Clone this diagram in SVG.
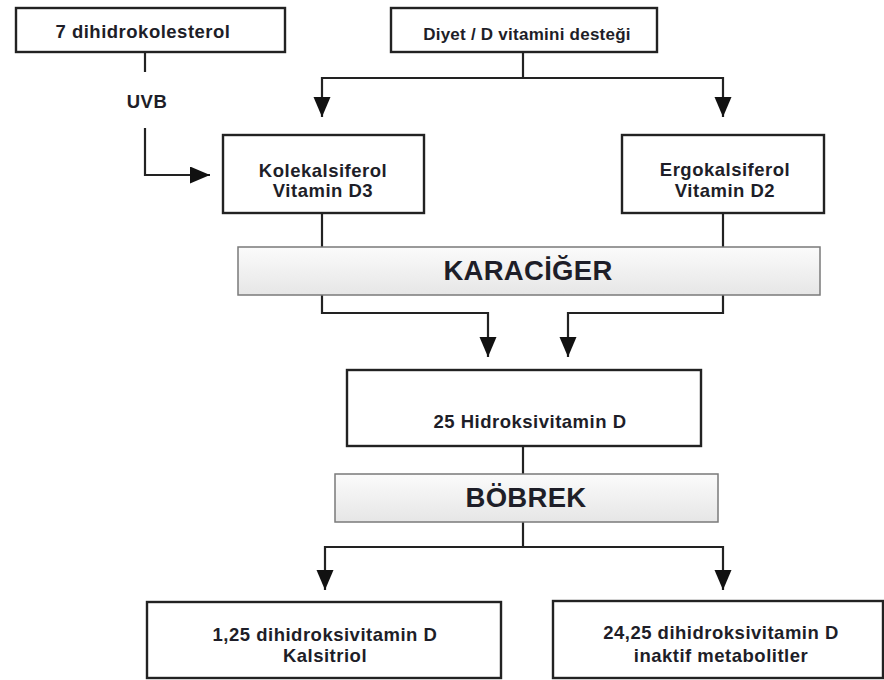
<svg xmlns="http://www.w3.org/2000/svg" width="884" height="680" viewBox="0 0 884 680">
<style>
.box{fill:#fff;stroke:#222;stroke-width:2.4}
.organ{fill:url(#g);stroke:#7a7a7a;stroke-width:1.5}
.t{font-family:"Liberation Sans",Arial,sans-serif;font-weight:bold;font-size:18.5px;letter-spacing:0.5px;fill:#1e1e28;text-anchor:middle}
.big{font-size:27.5px;letter-spacing:0.3px}
.c{fill:none;stroke:#222;stroke-width:2.2}
</style>
<defs>
<linearGradient id="g" x1="0" y1="0" x2="0" y2="1">
<stop offset="0" stop-color="#fbfbfb"/>
<stop offset="1" stop-color="#e6e6e6"/>
</linearGradient>
<marker id="a" markerUnits="userSpaceOnUse" markerWidth="20" markerHeight="18" refX="20" refY="8.5" orient="auto">
<path d="M0,0 L20,8.5 L0,17 z" fill="#111"/>
</marker>
</defs>
<g id="connectors">
<path class="c" d="M145,52 V72"/>
<path class="c" d="M145,128 V175 H210" marker-end="url(#a)"/>
<path class="c" d="M523,52 V78"/>
<path class="c" d="M523,78 H322 V117" marker-end="url(#a)"/>
<path class="c" d="M523,78 H723 V117" marker-end="url(#a)"/>
<path class="c" d="M322,213 V247"/>
<path class="c" d="M723,213 V247"/>
<path class="c" d="M322,295 V313 H488 V357" marker-end="url(#a)"/>
<path class="c" d="M723,295 V313 H568 V357" marker-end="url(#a)"/>
<path class="c" d="M523,446 V474"/>
<path class="c" d="M523,522 V547"/>
<path class="c" d="M523,547 H325 V590" marker-end="url(#a)"/>
<path class="c" d="M523,547 H723 V590" marker-end="url(#a)"/>
</g>
<text class="t" x="147" y="108">UVB</text>
<g id="n1">
<rect class="box" x="16" y="8" width="269" height="44"/>
<text class="t" x="143" y="38">7 dihidrokolesterol</text>
</g>
<g id="n2">
<rect class="box" x="391" y="8" width="266" height="44"/>
<text class="t" x="527" y="40" style="font-size:17px;letter-spacing:0.25px">Diyet / D vitamini desteği</text>
</g>
<g id="n3">
<rect class="box" x="223" y="135" width="201" height="78"/>
<text class="t" x="323" y="177">Kolekalsiferol</text>
<text class="t" x="323" y="197">Vitamin D3</text>
</g>
<g id="n4">
<rect class="box" x="622" y="135" width="202" height="78"/>
<text class="t" x="725" y="176">Ergokalsiferol</text>
<text class="t" x="725" y="197">Vitamin D2</text>
</g>
<g id="liver">
<rect class="organ" x="238" y="247" width="582" height="48"/>
<text class="t big" x="528" y="280">KARACİĞER</text>
</g>
<g id="n5">
<rect class="box" x="347" y="370" width="354" height="76"/>
<text class="t" x="530" y="428">25 Hidroksivitamin D</text>
</g>
<g id="kidney">
<rect class="organ" x="335" y="474" width="383" height="48"/>
<text class="t big" x="526" y="507">BÖBREK</text>
</g>
<g id="n6">
<rect class="box" x="147" y="602" width="354" height="76"/>
<text class="t" x="325" y="641">1,25 dihidroksivitamin D</text>
<text class="t" x="325" y="662">Kalsitriol</text>
</g>
<g id="n7">
<rect class="box" x="553" y="601" width="330" height="77"/>
<text class="t" x="721" y="639">24,25 dihidroksivitamin D</text>
<text class="t" x="721" y="662">inaktif metabolitler</text>
</g>
</svg>
